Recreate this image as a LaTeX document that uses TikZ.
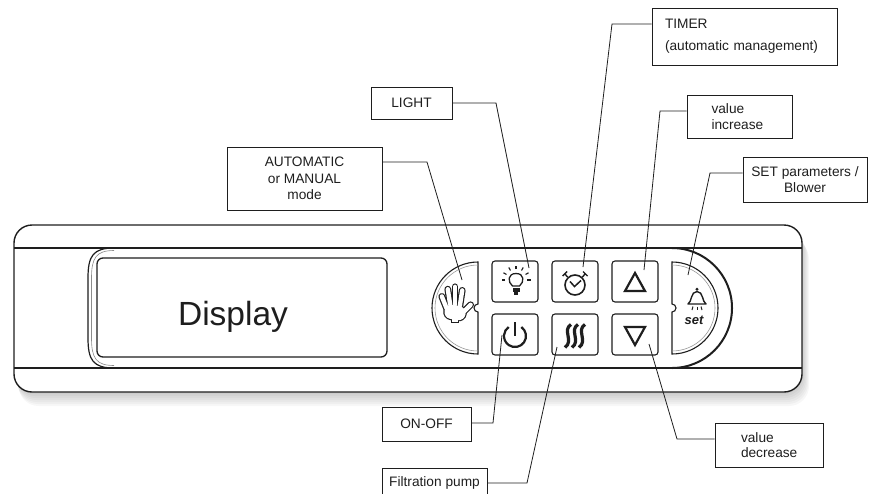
\documentclass[tikz,border=0pt]{standalone}
\usepackage{fontspec}
\setmainfont{Liberation Sans}

\definecolor{ink}{HTML}{1E1E1E}

\tikzset{
  lbl/.style={draw=ink, line width=0.8pt, inner sep=0pt, text=ink, align=center, font=\fontsize{13.7}{16.5}\selectfont},
  leader/.style={draw=ink, line width=0.8pt},
  keybtn/.style={draw=ink, line width=1.1pt, rounded corners=3pt, minimum width=46pt, minimum height=41pt, inner sep=0pt, fill=white},
  sym/.style={draw=ink, line width=2.2pt},
}

\begin{document}
\begin{tikzpicture}[x=1pt, y=-1pt]
  \useasboundingbox (0,0) rectangle (869,493);

  % shadow and body
  \foreach \s in {2,4,...,14}
    \fill[black, opacity=.03, rounded corners=20pt] (14+\s/3,225+\s) rectangle (802+\s/2,392+\s);
  \draw[ink, line width=1.4pt, fill=white, rounded corners=18pt] (14,225) rectangle (802,392);
  \draw[ink, line width=1.2pt] (14,248) -- (802,248);
  \draw[ink, line width=1.2pt] (14,368) -- (802,368);

  % panel
  \draw[ink, line width=1.2pt] (114,248) .. controls (93,248) and (88,256) .. (88,278) -- (88,338) .. controls (88,360) and (93,368) .. (114,368);
  \draw[black!45, line width=.6pt] (114,250.5) .. controls (96,250.5) and (91.5,258) .. (91.5,278) -- (91.5,338) .. controls (91.5,358) and (96,365.5) .. (114,365.5);
  \draw[ink, line width=2pt] (672,248) arc (-90:90:60);

  \node[draw=ink, line width=1.3pt, rounded corners=6pt, minimum width=290pt, minimum height=99pt] at (242,307.5) (display) {};
  \node[anchor=base, text=ink, font=\fontsize{33.5}{36}\selectfont] at (233,325) (disptext) {Display};

  % half round keys
  \draw[ink, line width=1.1pt, fill=white] (478,262) -- (478,304) arc (270:90:4) -- (478,354) arc (90:270:46) -- cycle;
  \draw[black!40, line width=.6pt] (478,351) arc (90:270:43);
  \draw[ink, line width=1.1pt, fill=white] (672,262) arc (-90:90:46) -- (672,312) arc (90:-90:4) -- cycle;
  \draw[black!40, line width=.6pt] (672,265) arc (-90:90:43);

  % square keys
  \foreach \n/\x/\y in {lightkey/515/281.5, timerkey/575/281.5, upkey/635/281.5,
                        powerkey/515/334.5, pumpkey/575/334.5, downkey/635/334.5}
    \node[keybtn] at (\x,\y) (\n) {};

  % hand
  \begin{scope}[shift={(455,306)}, scale=1.2]
    \foreach \ax/\ay/\bx/\by in {-7/2/-11/-8, -4/-1/-6/-14, 0/-1/0/-16, 4/0/6/-13, 6/6/13/-1}
      \draw[ink, line width=6.8pt, line cap=round] (\ax,\ay) -- (\bx,\by);
    \draw[ink, line width=16.4pt, line cap=round] (-3,5) -- (3,6);
    \draw[ink, line width=8.4pt] (0,9) -- (0,14);
    \foreach \ax/\ay/\bx/\by in {-7/2/-11/-8, -4/-1/-6/-14, 0/-1/0/-16, 4/0/6/-13, 6/6/13/-1}
      \draw[white, line width=4.4pt, line cap=round] (\ax,\ay) -- (\bx,\by);
    \draw[white, line width=14pt, line cap=round] (-3,5) -- (3,6);
    \draw[white, line width=6pt] (0,9) -- (0,13);
  \end{scope}

  % bulb
  \draw[ink, line width=1.3pt] (512.5,286) .. controls (507.5,282) and (507.5,273.5) .. (516,273.5) .. controls (524.5,273.5) and (524.5,282) .. (519.5,286) -- cycle;
  \fill[ink] (512.5,287.5) rectangle (519.5,292);
  \fill[ink] (514,292) rectangle (518,295);
  \foreach \a in {-180,-150,...,0}
    \draw[ink, line width=1.1pt] ([shift={(\a:11)}]516,280) -- ([shift={(\a:14.5)}]516,280);

  % clock
  \draw[ink, line width=1.6pt] (575,285) circle (10);
  \draw[ink, line width=1.5pt] (570,281.5) -- (574.5,286.5) -- (581,280.5);
  \draw[ink, line width=1.4pt] (562.5,276) -- (567,271.5) (564.8,273.8) -- (567.5,277);
  \draw[ink, line width=1.4pt] (587.5,276) -- (583,271.5) (585.2,273.8) -- (582.5,277);

  % arrows
  \draw[sym, line join=miter] (625,291) -- (645,291) -- (635,273) -- cycle;
  \draw[sym, line join=miter] (625,327) -- (645,327) -- (635,345) -- cycle;

  % power
  \draw[sym] (521.3,327) arc (-55:235:11);
  \draw[sym] (515,322) -- (515,336);

  % heater
  \foreach \x in {568,575,582}
    \draw[sym, line width=3.2pt] (\x+3,324.5) .. controls (\x-6,330) and (\x+6,341) .. (\x-3,347.5);

  % bell and set
  \draw[ink, line width=1.4pt, line join=round] (688,304) .. controls (692,302) and (690.5,291.5) .. (697,291.5) .. controls (703.5,291.5) and (702,302) .. (706,304) -- cycle;
  \fill[ink] (697,289.3) circle (1.6);
  \foreach \x/\xx in {693/692, 697/697, 701/702}
    \draw[ink, line width=1pt] (\x,306.5) -- (\xx,310);
  \node[anchor=base, text=ink, font=\fontsize{13}{14}\selectfont\bfseries\itshape] at (694,324) (settext) {set};

  % labels
  \node[lbl, minimum width=155pt, minimum height=63pt] at (304.5,178.5) (automode) {AUTOMATIC\\or MANUAL\\mode};
  \node[lbl, minimum width=81pt, minimum height=32pt] at (411.5,103) (light) {LIGHT};
  \node[lbl, minimum width=185pt, minimum height=57pt, text width=159pt, align=left, font=\fontsize{13.7}{22}\selectfont] at (744.5,36.5) (timer) {TIMER\\(automatic management)};
  \node[lbl, minimum width=105pt, minimum height=43pt, text width=56pt, align=left] at (739.5,116.5) (valup) {value\\increase};
  \node[lbl, minimum width=124pt, minimum height=45pt, font=\fontsize{13.7}{16}\selectfont] at (805,179.5) (setpar) {SET parameters /\\Blower};
  \node[lbl, minimum width=89pt, minimum height=34pt] at (426.5,424) (onoff) {ON-OFF};
  \node[lbl, minimum width=105pt, minimum height=30pt] at (434.5,483) (pump) {Filtration pump};
  \node[lbl, minimum width=108pt, minimum height=44pt, text width=56pt, align=left, font=\fontsize{13.7}{15.5}\selectfont] at (769,445) (valdown) {value\\decrease};

  % leaders
  \coordinate (autobend) at (427,162);   \coordinate (handtip) at (462,280);
  \coordinate (lightbend) at (496,103);  \coordinate (lighttip) at (529,268);
  \coordinate (timerbend) at (612,24);   \coordinate (timertip) at (583,267);
  \coordinate (upbend) at (660,111);     \coordinate (uptip) at (644,270);
  \coordinate (setbend) at (710,173);    \coordinate (settip) at (688,275);
  \coordinate (onoffbend) at (493,423);  \coordinate (powertip) at (502,335);
  \coordinate (pumpbend) at (527,483);   \coordinate (heattip) at (557,347);
  \coordinate (downbend) at (677,439);   \coordinate (downtip) at (649,344);

  \draw[leader] (automode.east |- autobend) -- (autobend) -- (handtip);
  \draw[leader] (light.east |- lightbend) -- (lightbend) -- (lighttip);
  \draw[leader] (timer.west |- timerbend) -- (timerbend) -- (timertip);
  \draw[leader] (valup.west |- upbend) -- (upbend) -- (uptip);
  \draw[leader] (setpar.west |- setbend) -- (setbend) -- (settip);
  \draw[leader] (onoff.east |- onoffbend) -- (onoffbend) -- (powertip);
  \draw[leader] (pump.east |- pumpbend) -- (pumpbend) -- (heattip);
  \draw[leader] (valdown.west |- downbend) -- (downbend) -- (downtip);
\end{tikzpicture}
\end{document}
